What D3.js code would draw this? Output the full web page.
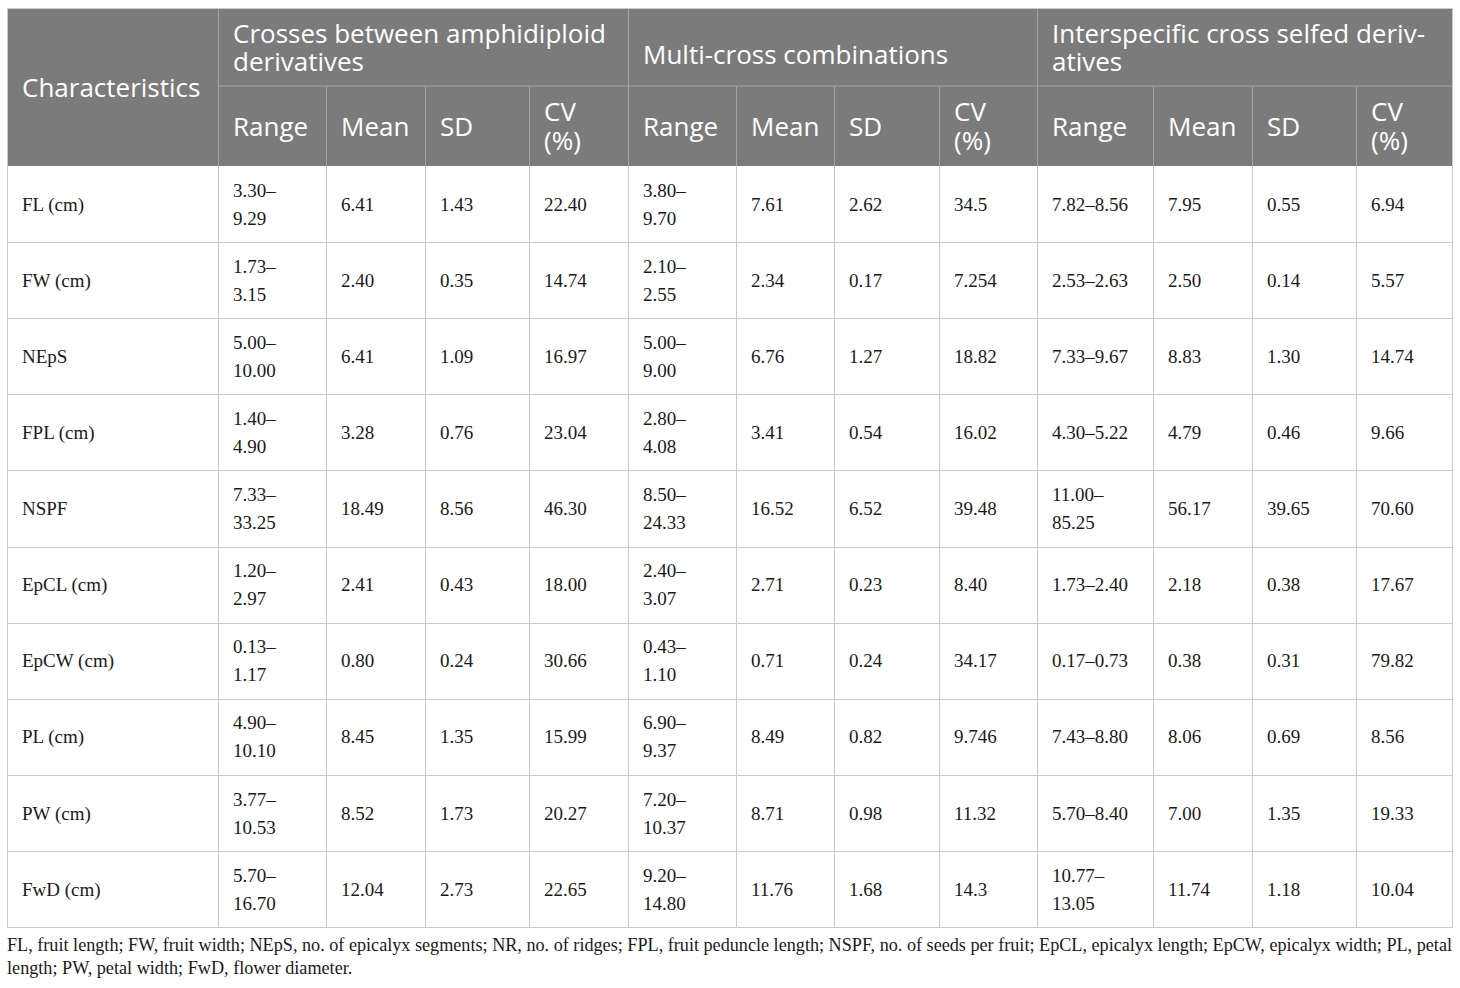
<!DOCTYPE html>
<html>
<head>
<meta charset="utf-8">
<script src="https://cdn.jsdelivr.net/npm/d3@7"></script>
<style>
  html, body { margin: 0; padding: 0; background: #fff; }
  svg { display: block; }
</style>
</head>
<body>
<div id="table"></div>
<script>
// Table content
const characteristics = ["FL (cm)", "FW (cm)", "NEpS", "FPL (cm)", "NSPF", "EpCL (cm)", "EpCW (cm)", "PL (cm)", "PW (cm)", "FwD (cm)"];
const groupLabels = [
    ["Crosses between amphidiploid", "derivatives"],
    ["Multi-cross combinations"],
    ["Interspecific cross selfed deriv-", "atives"]
];
const statLabels = [["Range"], ["Mean"], ["SD"], ["CV", "(%)"]];

const crossesRange = ["3.30–9.29", "1.73–3.15", "5.00–10.00", "1.40–4.90", "7.33–33.25", "1.20–2.97", "0.13–1.17", "4.90–10.10", "3.77–10.53", "5.70–16.70"];
const crossesMean  = ["6.41", "2.40", "6.41", "3.28", "18.49", "2.41", "0.80", "8.45", "8.52", "12.04"];
const crossesSD    = ["1.43", "0.35", "1.09", "0.76", "8.56", "0.43", "0.24", "1.35", "1.73", "2.73"];
const crossesCV    = ["22.40", "14.74", "16.97", "23.04", "46.30", "18.00", "30.66", "15.99", "20.27", "22.65"];

const multiRange = ["3.80–9.70", "2.10–2.55", "5.00–9.00", "2.80–4.08", "8.50–24.33", "2.40–3.07", "0.43–1.10", "6.90–9.37", "7.20–10.37", "9.20–14.80"];
const multiMean  = ["7.61", "2.34", "6.76", "3.41", "16.52", "2.71", "0.71", "8.49", "8.71", "11.76"];
const multiSD    = ["2.62", "0.17", "1.27", "0.54", "6.52", "0.23", "0.24", "0.82", "0.98", "1.68"];
const multiCV    = ["34.5", "7.254", "18.82", "16.02", "39.48", "8.40", "34.17", "9.746", "11.32", "14.3"];

const selfedRange = ["7.82–8.56", "2.53–2.63", "7.33–9.67", "4.30–5.22", "11.00–85.25", "1.73–2.40", "0.17–0.73", "7.43–8.80", "5.70–8.40", "10.77–13.05"];
const selfedMean  = ["7.95", "2.50", "8.83", "4.79", "56.17", "2.18", "0.38", "8.06", "7.00", "11.74"];
const selfedSD    = ["0.55", "0.14", "1.30", "0.46", "39.65", "0.38", "0.31", "0.69", "1.35", "1.18"];
const selfedCV    = ["6.94", "5.57", "14.74", "9.66", "70.60", "17.67", "79.82", "8.56", "19.33", "10.04"];

const footnoteLines = [
    "FL, fruit length; FW, fruit width; NEpS, no. of epicalyx segments; NR, no. of ridges; FPL, fruit peduncle length; NSPF, no. of seeds per fruit; EpCL, epicalyx length; EpCW, epicalyx width; PL, petal",
    "length; PW, petal width; FwD, flower diameter."
];

const columns = [
    crossesRange, crossesMean, crossesSD, crossesCV,
    multiRange, multiMean, multiSD, multiCV,
    selfedRange, selfedMean, selfedSD, selfedCV
];

// Layout
const width = 1460, height = 988;
const colEdges = [7, 218, 326, 425, 529, 628, 736, 834, 939, 1037, 1153, 1252, 1356, 1452];
const headTop = 8, headMid = 86, headBottom = 166, tableBottom = 927;
const pad = 15;
const headFont = "'Open Sans', 'Noto Sans', sans-serif";
const bodyFont = "'Liberation Serif', 'Times New Roman', serif";

const svg = d3.select("#table")
    .append("svg")
    .attr("width", width)
    .attr("height", height);

const y = d3.scaleBand()
    .domain(characteristics)
    .range([headBottom, tableBottom]);

// header background
svg.append("rect")
    .attr("x", colEdges[0]).attr("y", headTop)
    .attr("width", colEdges[13] - colEdges[0])
    .attr("height", headBottom - headTop)
    .attr("fill", "#7b7b7b");

// multi-line text helper
function multiText(g, lines, x, cy, lh) {
    const t = g.append("text").attr("x", x);
    const y0 = cy - (lines.length - 1) * lh / 2;
    lines.forEach((l, i) => {
        t.append("tspan")
            .attr("x", x)
            .attr("y", y0 + i * lh)
            .attr("dy", "0.35em")
            .text(l);
    });
    return t;
}

const head = svg.append("g")
    .attr("fill", "#fff")
    .style("font-family", headFont)
    .style("font-size", "26px");

multiText(head, ["Characteristics"], colEdges[0] + pad, 88, 28);

groupLabels.forEach((lines, gi) => {
    // single-line group titles sit a little low, as in the source
    const cy = lines.length > 1 ? 48 : 55;
    multiText(head, lines, colEdges[1 + gi * 4] + pad, cy, 28);
    statLabels.forEach((s, si) => {
        multiText(head, s, colEdges[1 + gi * 4 + si] + pad, s.length > 1 ? 126 : 127, 29);
    });
});

// header grid lines
const headLines = svg.append("g").attr("stroke", "#a3a3a3").attr("stroke-width", 1);
headLines.append("line")
    .attr("x1", colEdges[1]).attr("x2", colEdges[13])
    .attr("y1", headMid).attr("y2", headMid);
colEdges.slice(1, 13).forEach((cx, i) => {
    const isGroup = i % 4 === 0;
    headLines.append("line")
        .attr("x1", cx + 0.5).attr("x2", cx + 0.5)
        .attr("y1", isGroup ? headTop : headMid).attr("y2", headBottom);
});

// body
const body = svg.append("g")
    .attr("fill", "#1a1a1a")
    .style("font-family", bodyFont)
    .style("font-size", "19px");

function wrapRange(str, avail) {
    const probe = body.append("text").text(str);
    const w = probe.node().getComputedTextLength();
    probe.remove();
    if (w <= avail) return [str];
    const k = str.indexOf("–");
    return [str.slice(0, k + 1), str.slice(k + 1)];
}

characteristics.forEach((c, ri) => {
    const cy = y(c) + y.bandwidth() / 2;
    multiText(body, [c], colEdges[0] + pad, cy, 28);
    columns.forEach((col, ci) => {
        const x0 = colEdges[ci + 1], x1 = colEdges[ci + 2];
        const lines = wrapRange(col[ri], x1 - x0 - 34);
        multiText(body, lines, x0 + pad, cy, 28);
    });
});

// body grid lines
const grid = svg.append("g").attr("stroke", "#cacaca").attr("stroke-width", 1).attr("fill", "none");
characteristics.slice(1).forEach(c => {
    grid.append("line")
        .attr("x1", colEdges[0]).attr("x2", colEdges[13])
        .attr("y1", Math.round(y(c)) + 0.5).attr("y2", Math.round(y(c)) + 0.5);
});
colEdges.slice(1, 13).forEach(cx => {
    grid.append("line")
        .attr("x1", cx + 0.5).attr("x2", cx + 0.5)
        .attr("y1", headBottom).attr("y2", tableBottom);
});
grid.append("rect")
    .attr("x", colEdges[0] + 0.5).attr("y", headTop + 0.5)
    .attr("width", colEdges[13] - colEdges[0])
    .attr("height", tableBottom - headTop);

// footnote
const foot = svg.append("g")
    .attr("fill", "#1a1a1a")
    .style("font-family", bodyFont)
    .style("font-size", "18.2px");
footnoteLines.forEach((l, i) => {
    const t = foot.append("text")
        .attr("x", colEdges[0])
        .attr("y", 945 + i * 23)
        .attr("dy", "0.35em")
        .text(l);
    // first line runs the full table width
    if (i === 0 && t.node().getComputedTextLength() > colEdges[13] - colEdges[0]) {
        t.attr("textLength", colEdges[13] - colEdges[0]).attr("lengthAdjust", "spacingAndGlyphs");
    }
});
</script>
</body>
</html>
